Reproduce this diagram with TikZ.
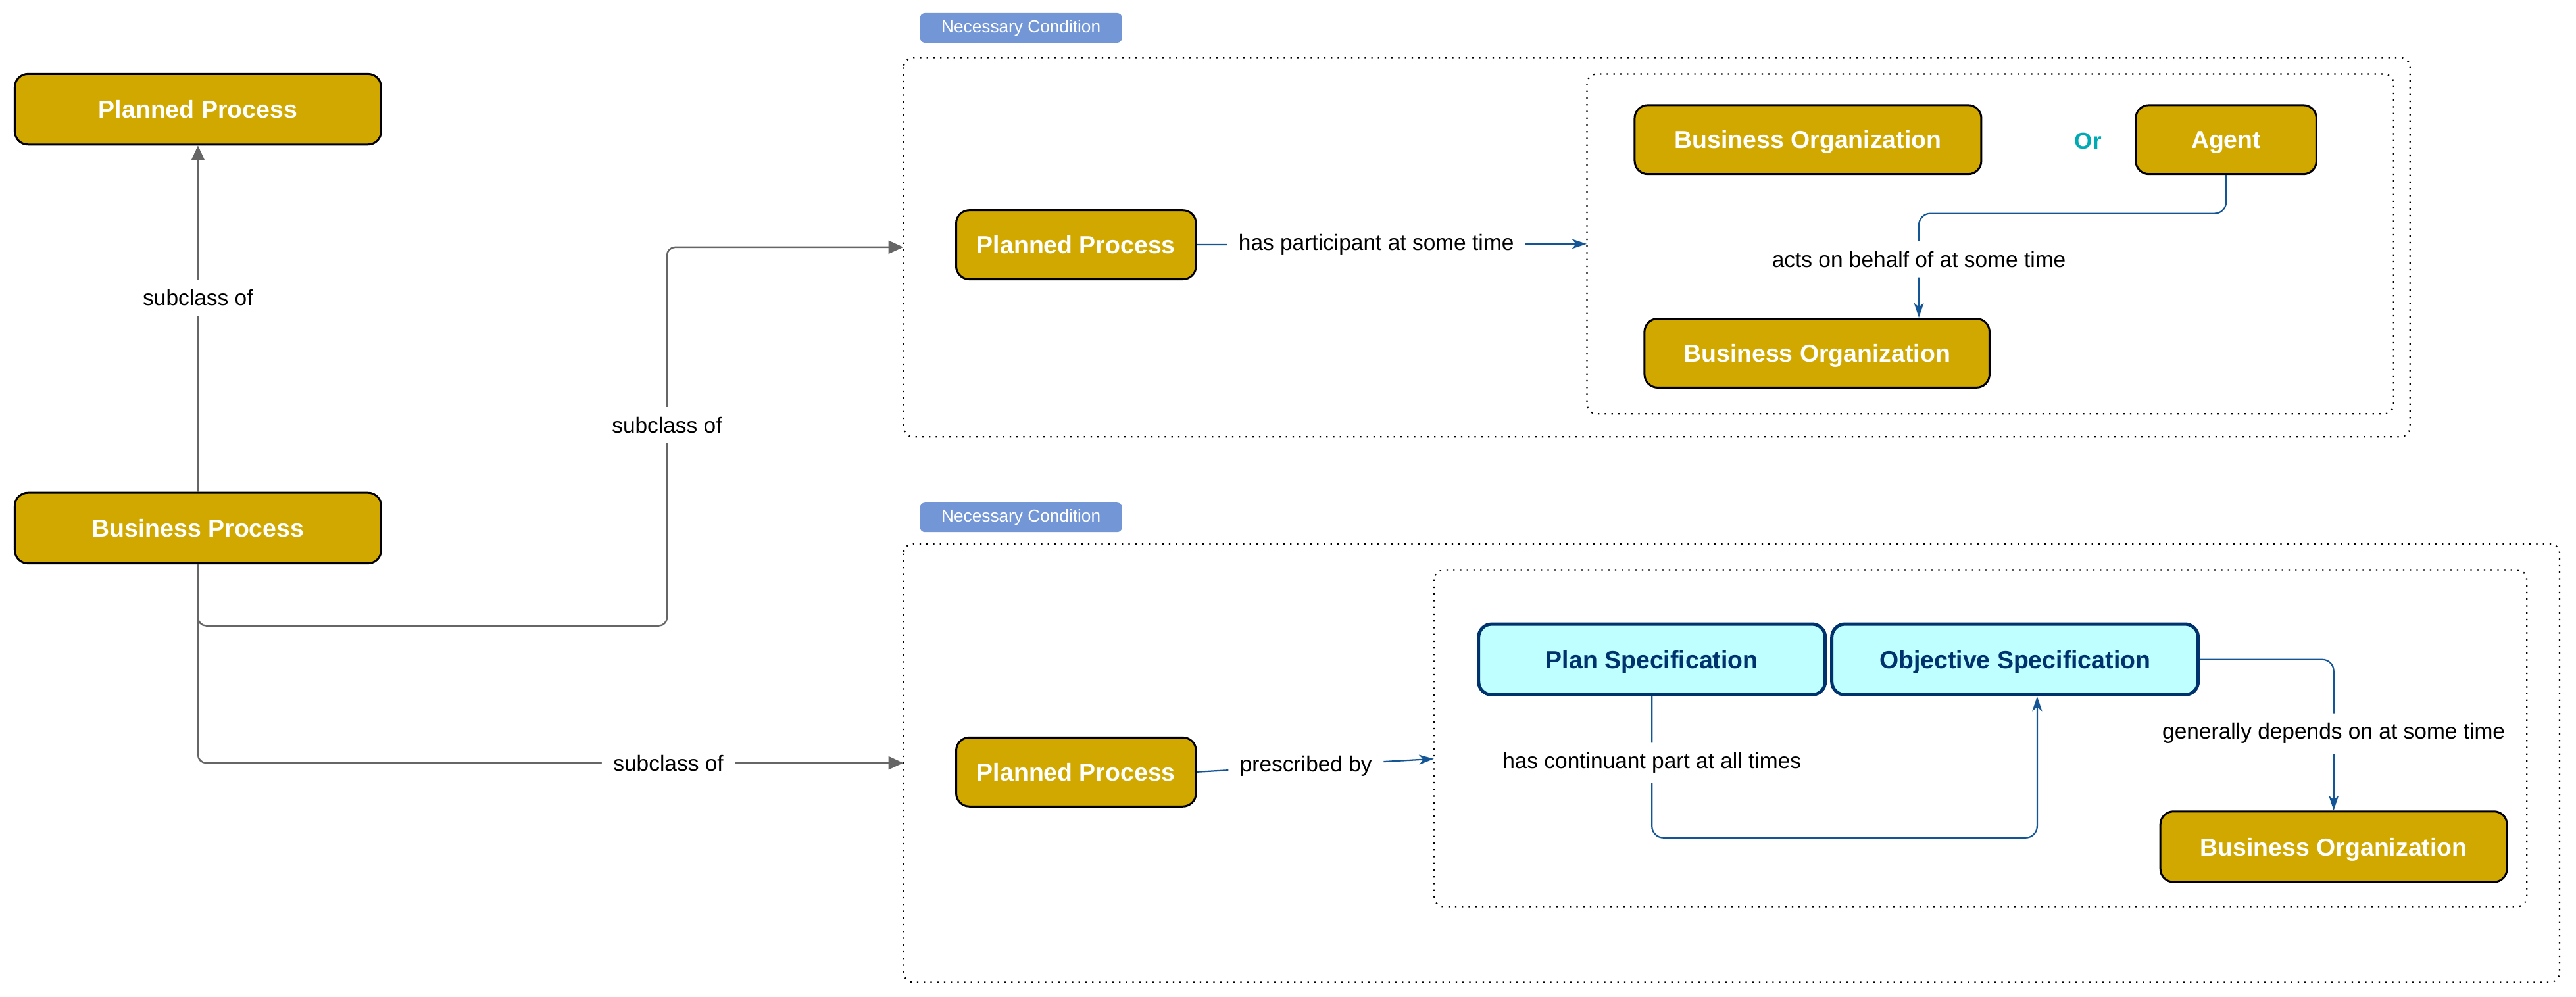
\documentclass[tikz,border=0pt]{standalone}
\usepackage{fontspec}
\setmainfont{Liberation Sans}
\usetikzlibrary{arrows.meta}
\definecolor{gold}{RGB}{208,168,0}
\definecolor{tagblue}{RGB}{114,150,214}
\definecolor{edgeblue}{RGB}{20,85,150}
\definecolor{cyanfill}{RGB}{191,255,255}
\definecolor{navy}{RGB}{0,50,110}
\definecolor{teal}{RGB}{0,170,180}
\definecolor{greyline}{RGB}{102,102,102}
\tikzset{
  goldbox/.style={rectangle, rounded corners=8pt, draw=black, line width=1.2pt, fill=gold, text=white,
    font=\bfseries\fontsize{15}{18}\selectfont, inner sep=0pt, text depth=0pt},
  cyanbox/.style={rectangle, rounded corners=8pt, draw=navy, line width=2pt, fill=cyanfill, text=navy,
    font=\bfseries\fontsize{15}{18}\selectfont, inner sep=0pt, text depth=0pt},
  tagbox/.style={rectangle, rounded corners=3pt, fill=tagblue, text=white,
    font=\fontsize{10.5}{12}\selectfont, inner sep=0pt, minimum width=123pt, minimum height=18pt},
  dotbox/.style={draw=black, line width=0.9pt, dash pattern=on 0.9pt off 3.2pt, rounded corners=6pt},
  lbl/.style={fill=white, text=black, font=\fontsize{13.4}{16}\selectfont, inner xsep=7pt, inner ysep=6pt},
  greyarrow/.style={draw=greyline, line width=1pt, rounded corners=5pt, -{Triangle[length=9pt,width=8pt]}},
  bluearrow/.style={draw=edgeblue, line width=0.9pt, rounded corners=7pt, -{Stealth[length=9pt,width=6pt,inset=2.5pt]}},
}
\begin{document}
\begin{tikzpicture}[x=1pt,y=-1pt]
\useasboundingbox (0,0) rectangle (1568,607);

% left nodes
\node[goldbox, minimum width=223pt, minimum height=43pt] (pp0) at (120.5,66.5) {Planned Process};
\node[goldbox, minimum width=223pt, minimum height=43pt] (bp) at (120.5,321.5) {Business Process};

% condition 1
\node[tagbox] (tag1) at (621.5,17) {Necessary Condition};
\draw[dotbox] (550,35) rectangle (1467,266);
\node[inner sep=0pt, minimum width=917pt, minimum height=231pt] (outer1) at (1008.5,150.5) {};
\draw[dotbox] (966,45) rectangle (1457,252);
\node[inner sep=0pt, minimum width=491pt, minimum height=207pt] (inner1) at (1211.5,148.5) {};

\node[goldbox, minimum width=146pt, minimum height=42pt] (pp1) at (655,149) {Planned Process};
\node[goldbox, minimum width=211pt, minimum height=42pt] (bo1) at (1100.5,85) {Business Organization};
\node[text=teal, font=\bfseries\fontsize{14}{16}\selectfont, inner sep=0pt] (or) at (1271,86) {Or};
\node[goldbox, minimum width=110pt, minimum height=42pt] (agent) at (1355,85) {Agent};
\node[goldbox, minimum width=210pt, minimum height=42pt] (bo2) at (1106,215) {Business Organization};

% condition 2
\node[tagbox] (tag2) at (621.5,315) {Necessary Condition};
\draw[dotbox] (550,331) rectangle (1558,598);
\node[inner sep=0pt, minimum width=1008pt, minimum height=267pt] (outer2) at (1054,464.5) {};
\draw[dotbox] (873,347) rectangle (1538,552);
\node[inner sep=0pt, minimum width=665pt, minimum height=205pt] (inner2) at (1205.5,449.5) {};

\node[goldbox, minimum width=146pt, minimum height=42pt] (pp2) at (655,470) {Planned Process};
\node[cyanbox, minimum width=211pt, minimum height=43pt] (ps) at (1005.5,401.5) {Plan Specification};
\node[cyanbox, minimum width=223pt, minimum height=43pt] (os) at (1226.5,401.5) {Objective Specification};
\node[goldbox, minimum width=211pt, minimum height=43pt] (bo3) at (1420.5,515.5) {Business Organization};

% grey subclass edges
\draw[greyarrow] (bp.north) -- node[lbl, pos=0.56] {subclass of} (pp0.south);
\draw[greyarrow] (bp.south) -- (120.5,381) -- (406,381) -- node[lbl, pos=0.53] {subclass of} (406,150.5) -- (outer1.west);
\draw[greyarrow] (bp.south) -- (bp.south |- outer2.west) -- node[lbl, pos=0.667] {subclass of} (outer2.west);

% blue edges
\draw[bluearrow] (pp1.east) -- node[lbl, pos=0.46] {has participant at some time} (inner1.west);
\draw[bluearrow] (agent.south) -- (1355,130) -- (1168,130) -- node[lbl, pos=0.44] {acts on behalf of at some time} ([xshift=62pt]bo2.north);
\draw[bluearrow] (pp2.east) -- node[lbl, pos=0.46] {prescribed by} ([yshift=-12.5pt]inner2.west);
\draw[bluearrow] (ps.south) -- node[lbl, pos=0.47] {has continuant part at all times} (1005.5,510) -- (1240,510) -- ([xshift=13.5pt]os.south);
\draw[bluearrow] (os.east) -- (1420.5,401.5) -- node[lbl, pos=0.49] {generally depends on at some time} (bo3.north);
\end{tikzpicture}
\end{document}
